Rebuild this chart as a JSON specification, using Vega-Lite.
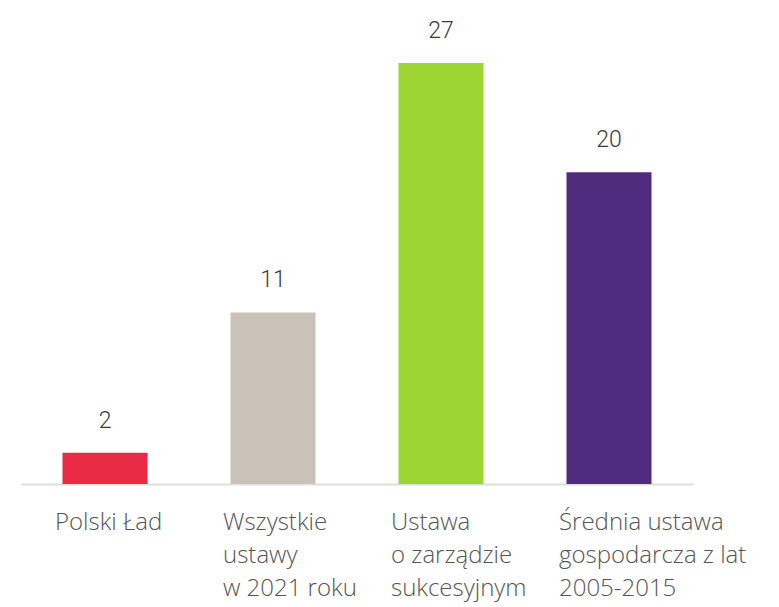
{
  "$schema": "https://vega.github.io/schema/vega-lite/v6.json",
  "width": 672,
  "height": 421,
  "autosize": "none",
  "padding": {"left": 21, "top": 63, "right": 86, "bottom": 123},
  "background": "white",
  "config": {"view": {"stroke": null}},
  "data": {
    "values": [
      {"kategoria": "Polski Ład", "wartosc": 2},
      {"kategoria": "Wszystkie|ustawy|w 2021 roku", "wartosc": 11},
      {"kategoria": "Ustawa|o zarządzie|sukcesyjnym", "wartosc": 27},
      {"kategoria": "Średnia ustawa|gospodarcza z lat|2005-2015", "wartosc": 20}
    ]
  },
  "encoding": {
    "x": {
      "field": "kategoria",
      "type": "nominal",
      "sort": null,
      "scale": {"paddingInner": 0.494, "paddingOuter": 0.247},
      "axis": {
        "title": null,
        "ticks": false,
        "labelAngle": 0,
        "labelAlign": "left",
        "labelOffset": -50,
        "labelFont": "Open Sans",
        "labelFontWeight": 300,
        "labelFontSize": 24,
        "labelColor": "#555555",
        "labelPadding": 45,
        "labelBaseline": "alphabetic",
        "labelLineHeight": 33,
        "labelLimit": 0,
        "labelExpr": "split(datum.label, '|')",
        "domainColor": "#dddddd",
        "domainWidth": 2,
        "grid": false
      }
    },
    "y": {
      "field": "wartosc",
      "type": "quantitative",
      "scale": {"domain": [0, 27], "nice": false},
      "axis": null
    }
  },
  "layer": [
    {
      "mark": {"type": "bar"},
      "encoding": {
        "color": {
          "field": "kategoria",
          "type": "nominal",
          "scale": {
            "domain": ["Polski Ład", "Wszystkie|ustawy|w 2021 roku", "Ustawa|o zarządzie|sukcesyjnym", "Średnia ustawa|gospodarcza z lat|2005-2015"],
            "range": ["#e92a44", "#cac2b8", "#9dd632", "#502c7e"]
          },
          "legend": null
        }
      }
    },
    {
      "mark": {"type": "text", "dy": -32, "font": "Roboto", "fontWeight": 300, "fontSize": 23, "color": "#3a3a3a", "baseline": "middle"},
      "encoding": {"text": {"field": "wartosc", "type": "quantitative"}}
    }
  ]
}
